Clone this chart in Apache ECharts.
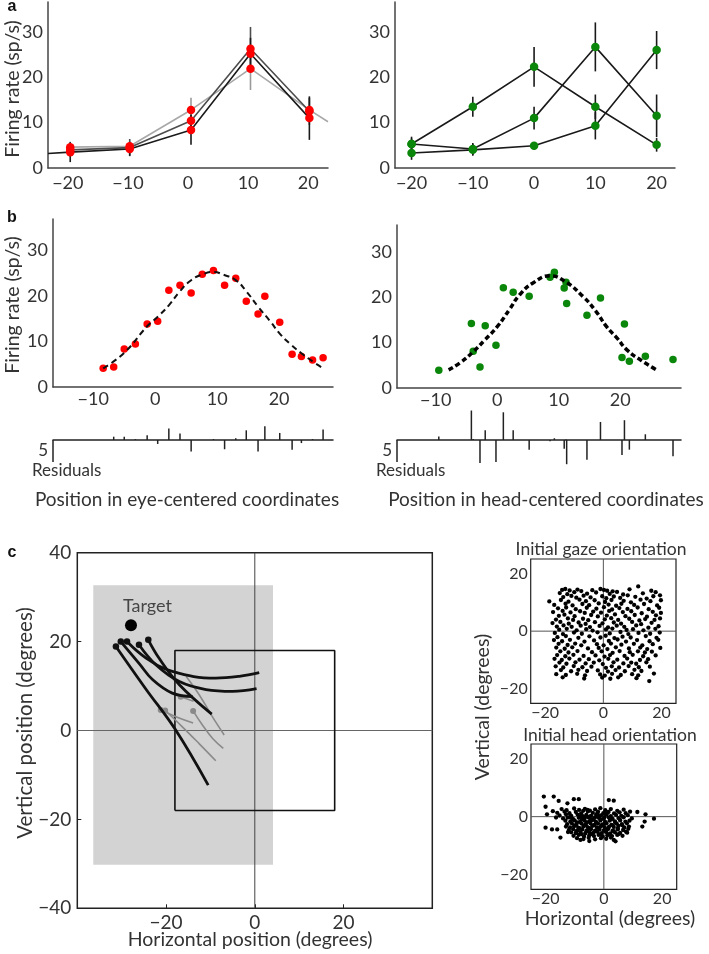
<!DOCTYPE html>
<html><head><meta charset="utf-8">
<script src="https://cdn.jsdelivr.net/npm/echarts/dist/echarts.min.js"></script>
<style>html,body{margin:0;padding:0;background:#fff}#c{width:709px;height:954px}</style>
</head><body><div id="c"></div><script>
// ---------------- DATA ----------------
// Panel a (left): eye-centered responses, three lines
const aX = [-19.6, -9.7, 0.5, 10.4, 20.2];
const aLeftBlack = [3.5, 4.2, 8.4, 25.2, 11.0];
const aLeftBlackErr = [2.2, 1.5, 3.3, 3.5, 4.8];
const aLeftDark = [4.0, 4.5, 10.4, 26.3, 12.5];
const aLeftDarkErr = [1.5, 1.9, 2.5, 4.8, 3.0];
const aLeftLight = [4.6, 4.8, 12.8, 21.9, 12.8];
const aLeftLightErr = [1.2, 1.2, 2.7, 4.7, 2.7];
const aLeftBlackStart = [-23.3, 3.2];
const aLeftLightEnd = [23.3, 10.2];
// Panel a (right): head-centered responses
const aRX = [-20, -10, 0, 10, 20];
const aRight1 = [5.3, 13.5, 22.3, 13.5, 5.1];
const aRight1Err = [1.6, 2.2, 4.4, 2.7, 1.5];
const aRight2 = [5.3, 4.2, 11.0, 26.7, 11.5];
const aRight2Err = [1.2, 1.3, 2.5, 5.4, 4.7];
const aRight3 = [3.3, 4.0, 4.9, 9.3, 26.0];
const aRight3Err = [1.5, 1.3, 0.8, 3.0, 4.2];
// Panel b (left): eye-centered positions
const bLeftX = [-8.4, -6.7, -5.0, -3.2, -1.3, 0.4, 2.2, 4.0, 5.8, 7.6, 9.4, 11.2, 13.0, 14.7, 16.6, 17.7, 20.1, 22.1, 23.6, 25.4, 27.1];
const bLeftY = [4.1, 4.4, 8.3, 9.4, 13.8, 14.4, 21.2, 22.3, 20.6, 24.7, 25.5, 22.3, 23.8, 18.8, 16.0, 19.9, 14.2, 7.2, 6.7, 5.9, 6.4];
const bLeftFitX = [-8.4, -5, -1.3, 0.5, 2.2, 4, 5.8, 7.5, 9.4, 11, 13, 14.8, 16.6, 18.5, 20.1, 21.8, 23.6, 25.5, 27.1];
const bLeftFitY = [4.1, 7.5, 13.3, 15.5, 17.9, 21.0, 23.4, 24.6, 25.2, 24.6, 23.4, 20.8, 17.6, 14.5, 11.7, 9.4, 7.4, 5.5, 4.1];
const bLeftResid = [0, 0.75, 0.75, 0.2, 1.1, -0.9, 2.6, 1.5, -2.6, 0, 0.2, -2.1, 0.4, 2.2, -2.6, 3.1, 1.6, -2.2, -0.7, 0.2, 2.4];
// Panel b (right): head-centered positions
const bRightX = [-9.5, -4.2, -3.9, -2.8, -1.95, -0.2, 1.0, 2.6, 5.2, 8.6, 9.3, 10.9, 11.2, 11.3, 14.6, 16.8, 20.3, 20.7, 21.5, 24.1, 28.6];
const bRightY = [3.9, 14.2, 8.1, 4.6, 13.7, 9.4, 22.1, 21.1, 20.2, 24.4, 25.5, 22.0, 23.3, 18.6, 16.0, 19.8, 6.7, 14.1, 5.9, 7.0, 6.3];
const bRightFitX = [-7.9, -6, -3.9, -2, 0, 2, 3.7, 6, 8.6, 11, 14, 16, 17.8, 19.5, 21.1, 23.5, 25.9];
const bRightFitY = [4.0, 5.6, 8.0, 10.6, 13.5, 17.3, 20.6, 23.3, 24.7, 23.5, 20.1, 17.0, 13.5, 11.0, 8.4, 6.0, 4.0];
const bRightResid = [0.8, 6.7, 0.2, -5.2, 2.2, -5.0, 6.3, 2.2, -2.2, -0.3, 0.4, -2.0, 0.1, -5.5, -4.5, 4.1, -3.4, 4.5, -2.2, 1.3, -3.7];
// Panel c: trajectories
const cGrayRegion = [-36.4, 32.7, 4.1, -30.2];
const cInnerBox = [[-18, -18], [-18, 18], [18, 18], [18, -18], [-18, -18]];
const cTarget = [-27.9, 23.7];
const cTargetLabelAt = [-24.2, 27.9];
const traj1 = [[-31.3, 18.9], [-24.6, 9.4], [-17.9, 0.2], [-10.5, -12.3]];
const traj2 = [[-30.2, 20.0], [-26.0, 15.0], [-23.0, 11.4], [-18.6, 8.4], [-14.0, 7.6]];
const traj3 = [[-28.8, 20.0], [-24.5, 16.3], [-18.6, 13.3], [-8.8, 11.8], [-3.5, 12.2], [1.0, 13.0]];
const traj4 = [[-26.1, 19.3], [-22.3, 14.8], [-17.0, 11.0], [-11.0, 9.2], [-5.0, 8.8], [0.4, 9.4]];
const traj5 = [[-24.0, 20.4], [-21.6, 16.3], [-17.0, 10.3], [-9.7, 3.7]];
const grayTraj1 = [[-21.2, 4.6], [-17.5, 3.0], [-13.9, 1.7]];
const grayTraj2 = [[-20.2, 4.5], [-16.5, 1.0], [-12.5, -3.0], [-8.8, -6.8]];
const grayTraj3 = [[-13.9, 4.4], [-12.0, 1.5], [-9.5, -1.8], [-7.1, -4.0]];
const grayTraj4 = [[-16.7, 7.6], [-13.8, 6.6]];
const grayTraj5 = [[-15.5, 12.2], [-12.5, 8.0], [-9.5, 3.0], [-6.9, -1.0]];
const grayStarts = [[-21.2, 4.6], [-20.2, 4.5], [-16.7, 7.6], [-13.9, 4.4]];
// Initial gaze orientation
const gazePts = [[-14.2,14.3],[-13.1,14.6],[-11.6,14.1],[-8.9,14.4],[-7.6,13.9],[-3.8,14.2],[-1.0,14.6],[0.2,14.3],[1.3,14.0],[3.2,13.8],[9.0,14.5],[16.5,14.0],[12.0,15.5],
[-15.0,13.2],[-12.4,12.8],[-10.0,13.5],[-5.6,13.0],[-2.5,13.4],[2.2,12.9],[4.7,13.6],[6.8,12.7],[13.6,13.1],[18.0,13.5],[19.5,12.4],
[-13.8,11.8],[-11.0,12.2],[-9.3,11.6],[-6.8,12.3],[-4.4,11.7],[-0.4,12.1],[1.0,11.4],[3.6,12.0],[5.8,11.5],[8.4,12.4],[11.0,11.9],[14.9,11.3],[17.2,12.1],
[-18.6,10.3],[-14.6,10.8],[-12.0,10.2],[-8.2,10.9],[-6.0,10.4],[-3.0,10.7],[0.6,10.1],[2.8,10.8],[7.0,10.5],[9.5,10.0],[12.8,10.9],[16.2,10.4],[19.8,10.7],
[-16.9,9.1],[-13.0,9.5],[-10.6,8.9],[-7.2,9.4],[-4.9,9.0],[-1.6,9.6],[1.8,9.2],[4.4,8.8],[6.2,9.5],[10.6,9.1],[14.0,9.4],[18.5,8.9],
[-15.6,7.9],[-12.8,8.2],[-9.5,7.6],[-5.7,8.1],[-2.4,7.8],[0.2,8.3],[3.0,7.5],[5.5,8.0],[8.3,7.7],[11.8,8.2],[15.6,7.6],[19.2,8.1],
[-17.3,6.6],[-14.0,7.0],[-11.3,6.5],[-8.0,6.9],[-6.4,6.3],[-3.5,6.8],[-0.8,6.4],[2.0,7.0],[6.7,6.6],[9.6,6.9],[13.2,6.2],[17.0,6.7],[19.8,6.3],
[-15.3,5.3],[-13.4,5.7],[-9.9,5.2],[-4.2,5.6],[-1.9,5.1],[1.2,5.4],[4.0,5.8],[7.6,5.2],[10.8,5.6],[15.0,5.0],[18.1,5.5],
[-16.3,4.0],[-12.2,4.4],[-10.4,3.9],[-7.0,4.3],[-5.2,3.8],[0.5,4.1],[2.7,4.5],[5.1,3.9],[8.9,4.3],[12.4,3.7],[14.4,4.2],[17.6,3.9],[19.5,4.4],
[-17.5,2.8],[-14.8,3.2],[-11.9,2.6],[-8.5,3.0],[-6.1,2.5],[-2.9,3.1],[-0.3,2.7],[3.6,3.0],[6.1,2.6],[9.9,3.2],[13.0,2.4],[16.6,2.9],
[-16.0,1.6],[-13.7,2.0],[-10.9,1.5],[-7.8,1.9],[-4.6,1.4],[-1.3,1.8],[1.6,1.3],[4.6,1.9],[7.2,1.5],[11.3,2.0],[15.5,1.2],[19.0,1.7],
[-15.2,0.5],[-12.6,0.8],[-9.2,0.3],[-5.9,0.7],[-3.7,0.2],[0.9,0.6],[3.1,0.9],[8.0,0.4],[10.2,0.7],[13.8,0.3],[17.9,0.8],
[-16.7,-0.6],[-13.9,-1.0],[-10.1,-0.5],[-7.4,-0.9],[-2.0,-0.4],[2.2,-0.8],[5.9,-0.3],[8.6,-1.0],[12.1,-0.6],[16.1,-0.9],[19.4,-0.5],
[-15.8,-2.1],[-12.9,-1.7],[-8.6,-2.3],[-4.8,-1.8],[-1.0,-2.2],[0.8,-1.6],[3.8,-2.4],[6.6,-1.9],[9.4,-2.2],[14.6,-1.7],[18.3,-2.3],
[-17.0,-3.1],[-14.2,-3.5],[-11.5,-3.0],[-6.5,-3.6],[-3.2,-3.2],[1.9,-3.4],[4.9,-2.9],[7.8,-3.6],[11.6,-3.1],[15.9,-3.5],[18.9,-3.0],
[-15.4,-4.4],[-12.3,-4.8],[-9.7,-4.3],[-7.6,-4.9],[-2.2,-4.5],[0.1,-4.9],[2.6,-4.3],[6.2,-4.7],[10.5,-4.4],[13.4,-4.9],[17.0,-4.5],
[-16.2,-5.7],[-13.3,-6.1],[-10.7,-5.6],[-5.3,-6.0],[-1.6,-5.8],[1.4,-6.2],[4.3,-5.6],[8.8,-6.0],[12.7,-5.7],[15.1,-6.2],[19.6,-5.8],
[-14.8,-7.0],[-12.0,-7.4],[-8.9,-6.9],[-3.9,-7.3],[-0.6,-7.0],[3.2,-7.5],[5.6,-6.9],[9.1,-7.3],[11.9,-7.0],[14.3,-7.4],[16.7,-7.1],
[-15.9,-8.3],[-13.1,-8.7],[-10.3,-8.2],[-6.8,-8.6],[-2.7,-8.4],[0.4,-8.8],[2.3,-8.3],[7.3,-8.6],[10.1,-8.2],[13.7,-8.7],[18.0,-8.4],
[-16.8,-9.6],[-14.3,-10.0],[-11.7,-9.5],[-8.2,-9.9],[-5.0,-9.7],[-1.4,-10.1],[1.7,-9.6],[4.8,-9.9],[8.2,-9.5],[12.6,-10.0],[15.4,-9.7],
[-15.1,-10.9],[-12.7,-11.3],[-9.6,-10.8],[-6.1,-11.2],[-3.3,-10.9],[-0.2,-11.4],[3.5,-10.8],[6.9,-11.2],[9.6,-10.9],[11.3,-11.3],[14.8,-10.8],
[-16.4,-12.2],[-13.8,-12.6],[-10.2,-12.1],[-7.2,-12.5],[-4.1,-12.3],[0.9,-12.7],[2.9,-12.2],[5.4,-12.6],[8.7,-12.1],[12.2,-12.5],[16.0,-12.3],
[-14.6,-13.5],[-11.1,-13.9],[-8.6,-13.4],[-5.6,-13.8],[-1.9,-13.6],[1.6,-14.0],[4.2,-13.5],[7.4,-13.9],[10.7,-13.4],[13.1,-13.8],
[-16.2,-14.9],[-12.9,-15.2],[-9.0,-14.8],[-6.3,-15.3],[-1.1,-15.0],[0.5,-15.4],[3.0,-14.8],[6.0,-15.2],[9.9,-14.9],[12.0,-15.3],[17.4,-14.7],
[-14.0,-16.0],[-6.6,-16.4],[-0.4,-16.1],[2.4,-16.5],[5.1,-16.0],[11.4,-16.3],[15.8,-17.3]];
// Initial head orientation
const headPts = [[-20.6,6.9],[-17.2,6.9],[-15.5,5.4],[-20,3.4],[-19.5,0.8],[-20,-3.8],[-17.8,-4.4],[-16,-4.4],[-14.9,-7.2],[-10.3,6],[-8.6,6],[1.7,5.7],[3.4,5.5],[11.5,1.6],[14.3,0.8],[17.2,-0.7],[14,-1.7],[13.2,-3.4],[8,-5.5],[3.4,-8],[4,-8.5],[-8,-8],[-12.5,4.6],[-17.5,1.9],[-16.4,-0.3],
[-14.5,2.6],[-12.8,2.2],[-10.2,2.8],[-8.5,2.3],[-6.5,2.7],[-4.8,2.1],[-3.0,2.5],[-1.2,2.9],[0.5,2.2],[2.4,2.6],[4.6,2.0],[6.8,2.4],
[-16.0,1.3],[-13.5,1.7],[-11.8,1.2],[-9.6,1.6],[-7.8,1.1],[-5.5,1.8],[-3.8,1.3],[-2.0,1.7],[-0.2,1.2],[1.6,1.6],[3.5,1.1],[5.4,1.5],[7.5,1.2],[9.0,1.7],
[-15.2,0.4],[-13.0,0.8],[-11.2,0.3],[-9.0,0.7],[-7.2,0.2],[-6.0,0.6],[-4.4,0.3],[-2.6,0.8],[-1.0,0.4],[0.8,0.7],[2.4,0.2],[4.2,0.6],[6.0,0.3],[8.2,0.5],
[-14.0,-0.6],[-12.4,-0.3],[-10.6,-0.8],[-8.6,-0.4],[-7.4,-0.7],[-5.2,-0.3],[-3.5,-0.8],[-1.8,-0.4],[0.0,-0.7],[1.7,-0.3],[3.0,-0.8],[5.0,-0.5],[6.8,-0.2],[9.6,-0.6],
[-13.2,-1.4],[-11.5,-1.7],[-10.0,-1.3],[-8.2,-1.8],[-6.6,-1.4],[-5.0,-1.6],[-4.0,-1.2],[-2.8,-1.7],[-1.2,-1.3],[0.4,-1.8],[2.0,-1.4],[3.8,-1.6],[5.6,-1.3],[7.4,-1.7],[8.8,-1.4],
[-12.6,-2.6],[-11.0,-2.3],[-9.4,-2.8],[-7.7,-2.4],[-6.2,-2.7],[-4.6,-2.3],[-3.2,-2.8],[-2.0,-2.4],[-0.6,-2.7],[0.9,-2.3],[2.6,-2.8],[4.4,-2.4],[6.2,-2.6],[7.9,-2.3],
[-13.0,-3.4],[-11.6,-3.7],[-10.2,-3.3],[-8.8,-3.8],[-7.0,-3.4],[-5.6,-3.6],[-4.0,-3.2],[-2.4,-3.7],[-1.0,-3.3],[0.3,-3.8],[1.8,-3.4],[3.4,-3.6],[5.0,-3.2],[7.0,-3.7],[8.6,-3.4],
[-12.0,-4.6],[-10.5,-4.3],[-9.0,-4.8],[-7.4,-4.4],[-5.8,-4.7],[-4.4,-4.3],[-3.0,-4.8],[-1.5,-4.4],[0.0,-4.7],[1.4,-4.3],[3.0,-4.8],[4.8,-4.4],[6.6,-4.6],[8.4,-4.2],
[-11.2,-5.4],[-9.6,-5.7],[-8.0,-5.3],[-6.4,-5.8],[-4.9,-5.4],[-3.6,-5.6],[-2.2,-5.2],[-0.8,-5.7],[0.8,-5.3],[2.2,-5.8],[3.8,-5.4],[5.6,-5.6],[7.6,-5.2],
[-10.4,-6.6],[-8.6,-6.3],[-6.8,-6.8],[-5.0,-6.4],[-3.4,-6.7],[-1.8,-6.3],[-0.4,-6.8],[1.2,-6.4],[2.8,-6.7],[4.6,-6.3],[6.4,-6.6],
[-9.2,-7.4],[-7.0,-7.7],[-5.2,-7.3],[-3.0,-7.8],[-1.0,-7.4],[0.8,-7.6],[2.4,-7.2],[-5.0,-8.4],
[-10.8,-1.0],[-9.2,-2.0],[-7.5,-1.0],[-5.9,-2.0],[-4.3,-1.0],[-2.6,-2.0],[-1.0,-1.0],[0.6,-2.0],[2.2,-1.0],[3.9,-2.0],[5.5,-1.0],
[-10.0,-3.0],[-8.3,-4.0],[-6.7,-3.0],[-5.0,-4.0],[-3.4,-3.0],[-1.7,-4.0],[-0.1,-3.0],[1.5,-4.0],[3.1,-3.0],[4.8,-4.0],[6.3,-3.0],
[-9.4,-5.0],[-7.7,-6.0],[-6.0,-5.0],[-4.3,-6.0],[-2.8,-5.0],[-1.2,-6.0],[0.3,-5.0],[1.9,-6.0],[3.4,-5.0],[5.1,-6.0],
[-8.0,0.0],[-6.4,-0.2],[-4.8,0.0],[-3.0,-0.2],[-1.5,0.0],[0.2,-0.2],[-11.7,-0.2],[-7.1,2.0],[-5.6,2.3],[-2.2,1.0],[1.0,1.0],[-12.3,-5.3]];
// Tick values
const rateTicks = 10, posTicks = 10, cTicks = 20, smallTicks = 20;

// ---------------- HELPERS ----------------
const FONT = 'Lato, "Open Sans", sans-serif';
const TXT = '#333';
const MINUS = '\u2212';
const zip = (xs, ys) => xs.map((x, i) => [x, ys[i]]);
function fmtStep(step, hide) {
  return v => {
    if (Math.abs(v / step - Math.round(v / step)) > 1e-6) return '';
    if (hide && hide.indexOf(Math.round(v)) >= 0) return '';
    return String(Math.round(v)).replace('-', MINUS);
  };
}
function axis(grid, min, max, step, o) {
  o = o || {};
  return {
    type: 'value', gridIndex: grid, min, max, minInterval: step, maxInterval: step,
    splitLine: { show: false },
    axisTick: o.tick ? { show: true, inside: true, length: 4, lineStyle: { color: '#222', width: 1 } } : { show: false },
    axisLine: { show: o.line !== false, onZero: o.onZero || false, lineStyle: { color: o.lineColor || '#444', width: o.lw || 1.5 } },
    axisLabel: o.noLabel ? { show: false } : { show: true, color: TXT, fontFamily: FONT, fontSize: o.fs || 18, margin: o.margin || 6, formatter: fmtStep(step, o.hide) }
  };
}
function lineS(g, data, color, width, z, extra) {
  return Object.assign({ type: 'line', xAxisIndex: g, yAxisIndex: g, data, symbol: 'none', lineStyle: { color, width }, itemStyle: { color }, z, silent: true }, extra || {});
}
function dotS(g, data, color, size, z) {
  return { type: 'scatter', xAxisIndex: g, yAxisIndex: g, data, symbolSize: size, itemStyle: { color, opacity: 1 }, z, silent: true };
}
function vBars(g, data, color, width, z) {
  return {
    type: 'custom', xAxisIndex: g, yAxisIndex: g, data, z, silent: true,
    encode: { x: 0, y: [1, 2] },
    renderItem: (p, api) => {
      const a = api.coord([api.value(0), api.value(1)]);
      const b = api.coord([api.value(0), api.value(2)]);
      return { type: 'line', shape: { x1: a[0], y1: a[1], x2: b[0], y2: b[1] }, style: { stroke: color, lineWidth: width } };
    }
  };
}
const errData = (xs, v, e) => xs.map((x, i) => [x, v[i] - e[i], v[i] + e[i]]);
const stemData = (xs, r) => xs.map((x, i) => [x, 0, r[i]]);
function scaleBar(g, x, len) {
  return {
    type: 'custom', xAxisIndex: g, yAxisIndex: g, data: [[x, 0, -len]], z: 5, silent: true,
    renderItem: (p, api) => {
      const a = api.coord([api.value(0), api.value(1)]);
      const b = api.coord([api.value(0), api.value(2)]);
      return { type: 'group', children: [
        { type: 'line', shape: { x1: a[0], y1: a[1], x2: b[0], y2: b[1] }, style: { stroke: '#222', lineWidth: 1.5 } },
        { type: 'text', x: a[0] - 5, y: (a[1] + b[1]) / 2, style: { text: String(len), font: '17px ' + FONT, fill: TXT, align: 'right', verticalAlign: 'middle' } }
      ] };
    }
  };
}
function textEl(t, x, y, size, o) {
  o = o || {};
  return { type: 'text', x, y, rotation: o.rot || 0, silent: true, z: 100,
    style: { text: t, font: (o.bold ? 'bold ' : '') + size + 'px ' + (o.family || FONT), fill: o.fill || TXT, align: o.align || 'center', verticalAlign: 'middle' } };
}

// ---------------- LAYOUT ----------------
const grids = [
  { left: 48, top: 2, width: 280, height: 166 },       // 0 a left
  { left: 395, top: 2, width: 280, height: 166 },      // 1 a right
  { left: 53, top: 219, width: 280, height: 168 },     // 2 b left
  { left: 397, top: 225, width: 284, height: 163 },    // 3 b right
  { left: 53, top: 422.4, width: 280, height: 39.6 },  // 4 resid left
  { left: 397, top: 409.2, width: 284, height: 52.8 }, // 5 resid right
  { left: 77.3, top: 552.7, width: 355, height: 355.6, show: true, borderColor: '#222', borderWidth: 1.5 }, // 6 c
  { left: 530.7, top: 559, width: 145.3, height: 144.3, show: true, borderColor: '#222', borderWidth: 1.2 }, // 7 gaze
  { left: 531, top: 744, width: 145.7, height: 145.3, show: true, borderColor: '#222', borderWidth: 1.2 }    // 8 head
];
const xAxes = [
  axis(0, -23.3, 23.3, posTicks, { margin: 6 }),
  axis(1, -22.7, 23.0, posTicks, { margin: 6 }),
  axis(2, -16.5, 28.7, posTicks, { margin: 3 }),
  axis(3, -16.3, 29.9, posTicks, { margin: 3 }),
  axis(4, -16.5, 28.7, posTicks, { noLabel: true, onZero: true, lineColor: '#222' }),
  axis(5, -16.3, 29.9, posTicks, { noLabel: true, onZero: true, lineColor: '#222' }),
  axis(6, -40, 40, cTicks, { line: false, tick: true, fs: 19, margin: 5, hide: [-40, 40] }),
  axis(7, -25, 25, smallTicks, { line: false, fs: 16, margin: 2 }),
  axis(8, -25, 25, smallTicks, { line: false, fs: 16, margin: 2 })
];
const yAxes = [
  axis(0, 0, 36.6, rateTicks, { margin: 5 }),
  axis(1, 0, 36.6, rateTicks, { margin: 5 }),
  axis(2, 0, 36.8, rateTicks, { margin: 5 }),
  axis(3, 0, 35.9, rateTicks, { margin: 5 }),
  axis(4, -5, 4, 5, { noLabel: true, line: false }),
  axis(5, -5, 7, 5, { noLabel: true, line: false }),
  axis(6, -40, 40, cTicks, { line: false, tick: true, fs: 19, margin: 6 }),
  axis(7, -25, 25, smallTicks, { line: false, fs: 16, margin: 3 }),
  axis(8, -25, 25, smallTicks, { line: false, fs: 16, margin: 3 })
];

const RED = '#ff0000', GREEN = '#0a870a';
const series = [];
// Panel a left
series.push(lineS(0, [aLeftBlackStart].concat(zip(aX, aLeftBlack)), '#1a1a1a', 1.6, 4));
series.push(lineS(0, zip(aX, aLeftDark), '#4d4d4d', 1.6, 3));
series.push(lineS(0, zip(aX, aLeftLight).concat([aLeftLightEnd]), '#a8a8a8', 1.6, 2));
series.push(vBars(0, errData(aX, aLeftLight, aLeftLightErr), '#9a9a9a', 1.6, 2));
series.push(vBars(0, errData(aX, aLeftDark, aLeftDarkErr), '#4d4d4d', 1.6, 3));
series.push(vBars(0, errData(aX, aLeftBlack, aLeftBlackErr), '#1a1a1a', 1.6, 3));
series.push(dotS(0, zip(aX, aLeftBlack).concat(zip(aX, aLeftDark), zip(aX, aLeftLight)), RED, 8.5, 6));
// Panel a right
[[aRight1, aRight1Err], [aRight2, aRight2Err], [aRight3, aRight3Err]].forEach(([v, e]) => {
  series.push(lineS(1, zip(aRX, v), '#1a1a1a', 1.6, 3));
  series.push(vBars(1, errData(aRX, v, e), '#1a1a1a', 1.6, 3));
  series.push(dotS(1, zip(aRX, v), GREEN, 8.5, 6));
});
// Panel b left
series.push(dotS(2, zip(bLeftX, bLeftY), RED, 7.5, 4));
series.push(lineS(2, zip(bLeftFitX, bLeftFitY), '#111', 2, 5, { smooth: 0.5, lineStyle: { color: '#111', width: 2, type: [6, 4] } }));
// Panel b right
series.push(dotS(3, zip(bRightX, bRightY), GREEN, 7.5, 4));
series.push(lineS(3, zip(bRightFitX, bRightFitY), '#000', 3.5, 5, { smooth: 0.5, lineStyle: { color: '#000', width: 3.5, type: [5, 3] } }));
// Residuals
series.push(vBars(4, stemData(bLeftX, bLeftResid), '#222', 1.5, 4));
series.push(scaleBar(4, -16.5, 5));
series.push(vBars(5, stemData(bRightX, bRightResid), '#222', 1.5, 4));
series.push(scaleBar(5, -16.3, 5));
// Panel c
series.push({
  type: 'custom', xAxisIndex: 6, yAxisIndex: 6, data: [cGrayRegion], z: 1, silent: true,
  renderItem: (p, api) => {
    const a = api.coord([api.value(0), api.value(1)]);
    const b = api.coord([api.value(2), api.value(3)]);
    return { type: 'rect', shape: { x: a[0], y: a[1], width: b[0] - a[0], height: b[1] - a[1] }, style: { fill: '#d3d3d3' } };
  }
});
series.push(lineS(6, [[0, -40], [0, 40]], '#444', 1, 2));
series.push(lineS(6, [[-40, 0], [40, 0]], '#666', 1.2, 2));
series.push(lineS(6, cInnerBox, '#111', 1.6, 3));
[grayTraj1, grayTraj2, grayTraj3, grayTraj4, grayTraj5].forEach(t => series.push(lineS(6, t, '#8a8a8a', 1.6, 4, { smooth: 0.4 })));
series.push(dotS(6, grayStarts, '#8a8a8a', 6, 5));
[traj1, traj2, traj3, traj4, traj5].forEach(t => series.push(lineS(6, t, '#111', 2.8, 6, { smooth: 0.4 })));
series.push(dotS(6, [traj1, traj2, traj3, traj4, traj5].map(t => t[0]), '#111', 6.5, 7));
series.push(dotS(6, [cTarget], '#000', 12, 7));
series.push({ type: 'scatter', xAxisIndex: 6, yAxisIndex: 6, data: [cTargetLabelAt], symbolSize: 0, z: 8, silent: true,
  label: { show: true, position: 'inside', formatter: 'Target', color: '#222', fontFamily: FONT, fontSize: 18 } });
// Small panels
[7, 8].forEach(g => {
  series.push(lineS(g, [[0, -25], [0, 25]], '#555', 1, 2));
  series.push(lineS(g, [[-25, 0], [25, 0]], '#555', 1, 2));
});
series.push(dotS(7, gazePts, '#000', 4.3, 4));
series.push(dotS(8, headPts, '#000', 4.3, 4));

const BOLD = '"Liberation Sans", Arial, sans-serif';
const graphic = [
  textEl('a', 12, 7, 16, { bold: true, family: BOLD, fill: '#111' }),
  textEl('b', 12, 218, 16, { bold: true, family: BOLD, fill: '#111' }),
  textEl('c', 12, 553, 16, { bold: true, family: BOLD, fill: '#111' }),
  textEl('Firing rate (sp/s)', 13, 89, 19.5, { rot: Math.PI / 2 }),
  textEl('Firing rate (sp/s)', 13, 305, 19.5, { rot: Math.PI / 2 }),
  textEl('Residuals', 32, 471, 17, { align: 'left' }),
  textEl('Residuals', 376, 471, 17, { align: 'left' }),
  textEl('Position in eye-centered coordinates', 187, 500, 19),
  textEl('Position in head-centered coordinates', 546, 500, 19),
  textEl('Vertical position (degrees)', 25, 723, 20.5, { rot: Math.PI / 2 }),
  textEl('Horizontal position (degrees)', 250, 940, 19.5),
  textEl('Initial gaze orientation', 601, 549, 17.5),
  textEl('Initial head orientation', 610, 735, 17.5),
  textEl('Vertical (degrees)', 483, 707, 19.5, { rot: Math.PI / 2 }),
  textEl('Horizontal (degrees)', 610, 919, 19.5)
];

const chart = echarts.init(document.getElementById('c'), null, { renderer: 'canvas' });
chart.setOption({ animation: false, backgroundColor: '#fff', grid: grids, xAxis: xAxes, yAxis: yAxes, series, graphic });
</script></body></html>
